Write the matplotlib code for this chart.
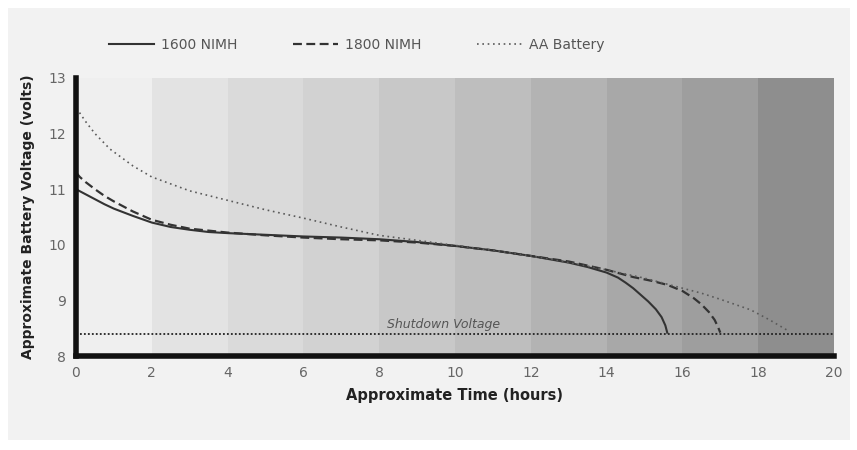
import numpy as np
import matplotlib
matplotlib.use('Agg')
from matplotlib import pyplot as plt
from matplotlib.patches import Rectangle

# discharge curves (hours, volts)
t_1600 = [0, 0.25, 0.5, 0.75, 1, 1.5, 2, 2.5, 3, 3.5, 4, 5, 6, 7, 8, 9, 10, 11, 12, 13, 13.5, 14,
          14.3, 14.5, 14.7, 14.9, 15.1, 15.3, 15.45, 15.55, 15.6]
v_1600 = [11.0, 10.91, 10.82, 10.73, 10.65, 10.52, 10.4, 10.32, 10.27, 10.23, 10.21, 10.18, 10.15,
          10.13, 10.1, 10.05, 9.98, 9.9, 9.8, 9.68, 9.6, 9.5, 9.41, 9.32, 9.22, 9.1, 8.98, 8.84,
          8.7, 8.55, 8.42]

t_1800 = [0, 0.1, 0.25, 0.5, 0.75, 1, 1.5, 2, 2.5, 3, 4, 5, 6, 7, 8, 9, 10, 11, 12, 13, 14, 14.7,
          15.2, 15.6, 16.0, 16.3, 16.5, 16.7, 16.85, 16.94, 17.0]
v_1800 = [11.3, 11.22, 11.13, 11.0, 10.88, 10.78, 10.6, 10.45, 10.36, 10.29, 10.22, 10.17, 10.13,
          10.1, 10.08, 10.04, 9.98, 9.9, 9.8, 9.7, 9.55, 9.42, 9.35, 9.28, 9.17, 9.04, 8.93,
          8.79, 8.65, 8.52, 8.42]

t_aa = [0, 0.1, 0.25, 0.5, 0.9, 1.5, 2, 3, 4, 5, 6, 7, 8, 9, 10, 11, 12, 13, 14, 15, 16, 16.5, 17,
        17.8, 18.3, 18.8]
v_aa = [12.45, 12.37, 12.22, 12.0, 11.72, 11.42, 11.22, 10.97, 10.8, 10.63, 10.48, 10.32, 10.17,
        10.08, 9.99, 9.9, 9.8, 9.68, 9.55, 9.4, 9.22, 9.13, 9.02, 8.83, 8.65, 8.45]

shutdown_v = 8.4

# background bands, one per 2 hours
band_starts = [0, 2, 4, 6, 8, 10, 12, 14, 16, 18]
band_colors = ['#efefef', '#e3e3e3', '#dadada', '#d2d2d2', '#c8c8c8',
               '#bebebe', '#b3b3b3', '#a8a8a8', '#9e9e9e', '#8e8e8e']

fig = plt.figure(figsize=(8.57, 4.5), dpi=100)
fig.patch.set_facecolor('white')
fig.patches.append(Rectangle((8/857, 10/450), 842/857, 432/450, transform=fig.transFigure,
                             facecolor='#f2f2f2', edgecolor='none', zorder=-10))

ax = fig.add_axes([76/857, 1-356/450, 758/857, 278/450])
ax.set_facecolor('none')

for x0, c in zip(band_starts, band_colors):
    ax.axvspan(x0, x0 + 2, color=c, lw=0, zorder=0)

ax.plot(t_1600, v_1600, color='#333333', lw=1.5, ls='-', label='1600 NIMH', zorder=3)
ax.plot(t_1800, v_1800, color='#333333', lw=1.6, ls=(0, (4, 2)), label='1800 NIMH', zorder=3)
ax.plot(t_aa, v_aa, color='#5a5a5a', lw=1.2, ls=(0, (1, 2.2)), label='AA Battery', zorder=3)

ax.axhline(shutdown_v, color='#222222', lw=1.3, ls=(0, (1, 1.2)), zorder=2)
ax.text(8.2, shutdown_v + 0.05, 'Shutdown Voltage', style='italic', fontsize=9,
        color='#555555', va='bottom', ha='left')

ax.set_xlim(0, 20)
ax.set_ylim(8, 13)
ax.set_xticks(range(0, 21, 2))
ax.set_yticks(range(8, 14))
ax.tick_params(length=0, labelsize=10, labelcolor='#666666', pad=7)

for s in ['top', 'right']:
    ax.spines[s].set_visible(False)
for s in ['left', 'bottom']:
    ax.spines[s].set_linewidth(4)
    ax.spines[s].set_color('#111111')
    ax.spines[s].set_zorder(5)

ax.set_xlabel('Approximate Time (hours)', fontsize=10.5, fontweight='bold', color='#222222', labelpad=6)
ax.set_ylabel('Approximate Battery Voltage (volts)', fontsize=10, fontweight='bold', color='#222222', labelpad=10)

handles, labels = ax.get_legend_handles_labels()
leg = fig.legend(handles, labels, loc='center left', bbox_to_anchor=(96/857, 1-45/450), ncol=3,
                 frameon=False, handlelength=3.3, columnspacing=4.0, handletextpad=0.45, fontsize=10)
for txt in leg.get_texts():
    txt.set_color('#555555')

fig.savefig('out.png', dpi=100)
